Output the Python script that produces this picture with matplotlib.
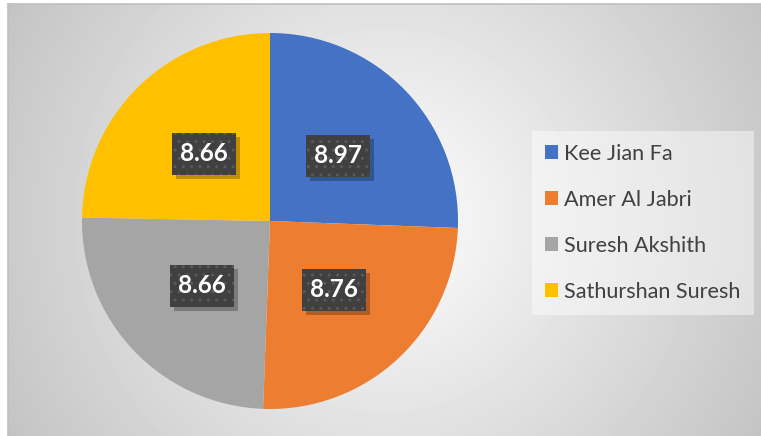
import numpy as np
import matplotlib.pyplot as plt
from matplotlib.patches import Rectangle

# data
names = ['Kee Jian Fa', 'Amer Al Jabri', 'Suresh Akshith', 'Sathurshan Suresh']
scores = [8.97, 8.76, 8.66, 8.66]
colors = ['#4472C4', '#ED7D31', '#A5A5A5', '#FFC000']

W, H = 761, 436
fig = plt.figure(figsize=(W / 100, H / 100), dpi=100)
fig.patch.set_facecolor('white')

# chart area background: radial grey gradient
bg = fig.add_axes([8 / W, 0, 1 - 8 / W, (H - 4) / H])
yy, xx = np.mgrid[4:H, 8:W]
d = np.hypot(xx - 385, yy - 220)
shade = np.clip(254 - d * 0.135, 190, 255) / 255
bg.imshow(shade, cmap='gray', vmin=0, vmax=1, aspect='auto', interpolation='bilinear')
bg.set_xticks([])
bg.set_yticks([])
for s in ['right', 'bottom']:
    bg.spines[s].set_visible(False)
for s in ['left', 'top']:
    bg.spines[s].set_color('#bfbfbf')
    bg.spines[s].set_linewidth(1.2)

# pie: centre (270, 221) px, radius 188 px
cx, cy, r = 270, 221, 188
ax = fig.add_axes([(cx - r) / W, (H - cy - r) / H, 2 * r / W, 2 * r / H])
ax.set_facecolor('none')
wedges, _ = ax.pie(scores, colors=colors, startangle=90, counterclock=False,
                   radius=1, wedgeprops=dict(linewidth=0))
ax.set_xlim(-1, 1)
ax.set_ylim(-1, 1)

# data labels: dark dotted boxes with white bold numbers
bw, bh = 64 / r, 42 / r
off = 4 / r
for w, v in zip(wedges, scores):
    ang = np.deg2rad((w.theta1 + w.theta2) / 2)
    x, y = 0.5 * np.cos(ang), 0.5 * np.sin(ang)
    ax.add_patch(Rectangle((x - bw / 2 + off, y - bh / 2 - off), bw, bh,
                           facecolor='#000000', alpha=0.25, linewidth=0, zorder=3))
    ax.add_patch(Rectangle((x - bw / 2, y - bh / 2), bw, bh, facecolor='#404040',
                           edgecolor='#5a5a5a', hatch='..', linewidth=0, zorder=4))
    ax.text(x, y, f'{v:.2f}', ha='center', va='center', color='white',
            fontsize=17.5, fontweight='bold', family='Lato', zorder=5)

# legend
leg = fig.legend(wedges, names, loc='upper left',
                 bbox_to_anchor=(532 / W, 1 - 131 / H),
                 frameon=True, fancybox=False, prop=dict(family='Lato', size=15.6),
                 handlelength=0.6, handleheight=0.6, handletextpad=0.3,
                 labelspacing=1.2, borderpad=0.6, borderaxespad=0)
fr = leg.get_frame()
fr.set_facecolor('white')
fr.set_alpha(0.45)
fr.set_linewidth(0)
for t in leg.get_texts():
    t.set_color('#404040')

fig.savefig('out.png', dpi=100, facecolor='white')
